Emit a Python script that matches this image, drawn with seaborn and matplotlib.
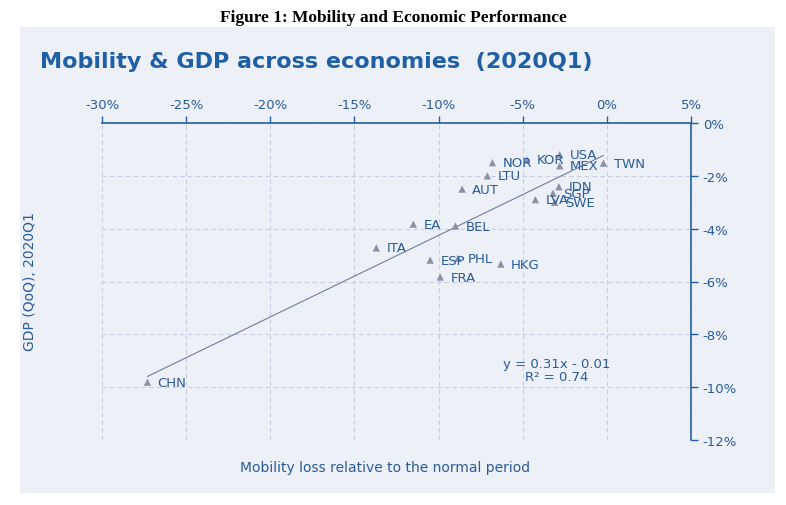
import numpy as np
import matplotlib
matplotlib.use("Agg")
import matplotlib.pyplot as plt
from matplotlib.patches import Rectangle
import seaborn as sns
import pandas as pd

countries = ["CHN","ITA","EA","BEL","ESP","PHL","FRA","HKG","AUT","LTU","NOR","KOR","USA","MEX","TWN","IDN","SGP","LVA","SWE"]
mobility = [-27.3,-13.7,-11.5,-9.0,-10.5,-8.85,-9.9,-6.3,-8.6,-7.1,-6.8,-4.75,-2.8,-2.8,-0.2,-2.85,-3.2,-4.25,-3.1]
gdp = [-9.81,-4.73,-3.83,-3.90,-5.19,-5.12,-5.83,-5.34,-2.5,-2.0,-1.5,-1.40,-1.20,-1.62,-1.52,-2.41,-2.66,-2.9,-3.0]
df = pd.DataFrame({"country": countries, "mobility": mobility, "gdp": gdp})

sns.set_theme(style="white")
plt.rcParams['font.family'] = ['DejaVu Sans']
blue = "#2160a8"
txt = "#2a5c9a"

fig = plt.figure(figsize=(7.86, 5.06), dpi=100)
bg = Rectangle((20/786, 1-494/506), 755/786, 466/506, transform=fig.transFigure,
               facecolor="#eef0f7", edgecolor="none", zorder=-10)
fig.patches.append(bg)
fig.text(0.5, 1-18/506, "Figure 1: Mobility and Economic Performance", ha="center", va="center",
         family="Liberation Serif", weight="bold", fontsize=12.5, color="black")
fig.text(40/786, 1-62/506, "Mobility & GDP across economies  (2020Q1)", ha="left", va="center",
         weight="bold", fontsize=16, color="#1f5fa6")

ax = fig.add_axes([102/786, 1-441/506, 589/786, 317/506])
ax.set_zorder(5)
ax.patch.set_alpha(0)
sns.scatterplot(data=df, x="mobility", y="gdp", marker="^", color="#8a93a6", s=28, edgecolor="none", ax=ax, zorder=3)
m, b = np.polyfit(df["mobility"], df["gdp"], 1)
xs = np.array([min(mobility), max(mobility)])
ax.plot(xs, m*xs+b, color="#6d7f9a", lw=0.8, zorder=2)
for c, x, y in zip(countries, mobility, gdp):
    ax.text(x+0.6, y, c, color=txt, fontsize=9.5, va="center", ha="left")

ax.set_xlim(-30, 5)
ax.set_ylim(-12, 0)
ax.set_xticks(np.arange(-30, 6, 5))
ax.set_xticklabels([f"{v}%" for v in range(-30, 6, 5)])
ax.set_yticks(np.arange(-12, 1, 2))
ax.set_yticklabels([f"{v}%" for v in range(-12, 1, 2)])
ax.xaxis.tick_top()
ax.yaxis.tick_right()
ax.tick_params(axis="both", colors=blue, labelcolor=txt, labelsize=9.5, length=5, direction="out", width=1)
for s in ["left", "bottom"]:
    ax.spines[s].set_visible(False)
for s in ["top", "right"]:
    ax.spines[s].set_color(blue)
    ax.spines[s].set_linewidth(1.2)
ax.grid(True, color="#c8cde0", ls=(0, (4, 3)), lw=0.8)
ax.set_xlabel(""); ax.set_ylabel("")
ax.text(-3.0, -9.35, "y = 0.31x - 0.01\nR² = 0.74", ha="center", va="center",
        color=txt, fontsize=9.5, linespacing=1.0)

fig.text(385/786, 1-468/506, "Mobility loss relative to the normal period", ha="center", va="center",
         color=txt, fontsize=10)
fig.text(30/786, 1-282/506, "GDP (QoQ), 2020Q1", rotation=90, ha="center", va="center", color=txt, fontsize=10)
fig.savefig("out.png", dpi=100)
